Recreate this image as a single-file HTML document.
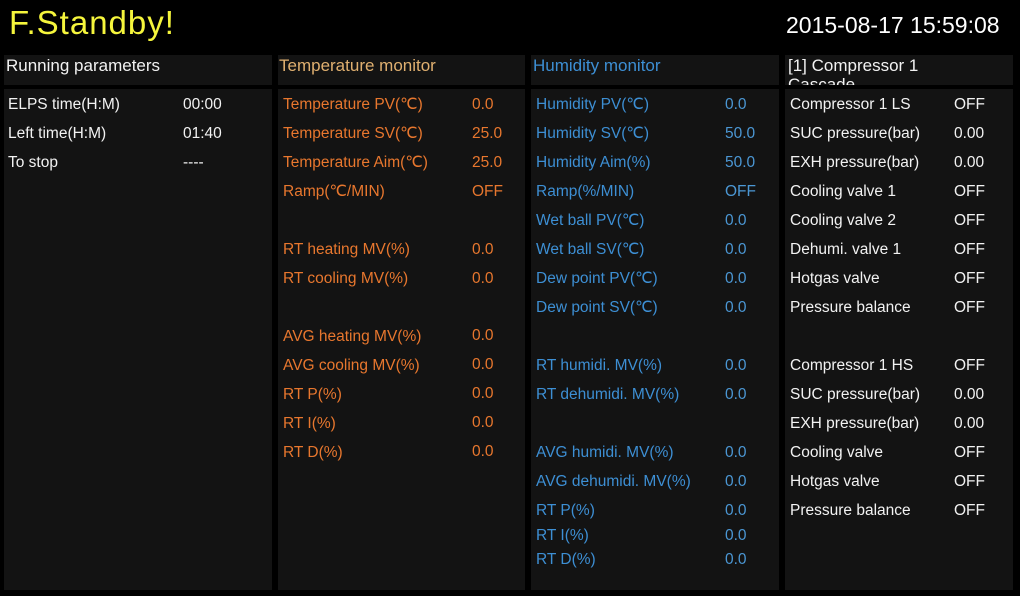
<!DOCTYPE html>
<html><head><meta charset="utf-8"><style>
body{margin:0;width:1020px;height:596px;background:#000;position:relative;overflow:hidden;font-family:"Liberation Sans",sans-serif}
.a{position:absolute;white-space:nowrap}
.p{position:absolute;background:#131313}
.h{font-size:17px;line-height:20px}
.t{font-size:15.5px;line-height:18px}
.w{color:#f2f2f2}.o{color:#e8772e}.b{color:#3d8fd4}
</style></head><body>
<div class="a" style="left:9px;top:4px;font-size:33px;letter-spacing:1px;color:#f5f53c">F.Standby!</div>
<div class="a" style="left:786px;top:12px;font-size:23px;color:#fff">2015-08-17 15:59:08</div>

<div class="p" style="left:4px;top:55px;width:268px;height:30px"></div>
<div class="p" style="left:278px;top:55px;width:247px;height:30px"></div>
<div class="p" style="left:531px;top:55px;width:248px;height:30px"></div>
<div class="p" style="left:785px;top:55px;width:228px;height:30px;overflow:hidden"><div class="a h w" style="left:3px;top:1px;line-height:19px">[1] Compressor 1<br>Cascade</div></div>
<div class="p" style="left:4px;top:89px;width:268px;height:501px"></div>
<div class="p" style="left:278px;top:89px;width:247px;height:501px"></div>
<div class="p" style="left:531px;top:89px;width:248px;height:501px"></div>
<div class="p" style="left:785px;top:89px;width:228px;height:501px"></div>

<div class="a h w" style="left:6px;top:56px">Running parameters</div>
<div class="a h" style="left:279px;top:56px;color:#e0b070">Temperature monitor</div>
<div class="a h b" style="left:533px;top:56px">Humidity monitor</div>

<div class="a t w" style="left:8px;top:90px;line-height:29px">ELPS time(H:M)<br>Left time(H:M)<br>To stop</div>
<div class="a t w" style="left:183px;top:90px;line-height:29px">00:00<br>01:40<br>----</div>

<div class="a t o" style="left:283px;top:90px;line-height:29px">Temperature PV(℃)<br>Temperature SV(℃)<br>Temperature Aim(℃)<br>Ramp(℃/MIN)<br><br>RT heating MV(%)<br>RT cooling MV(%)<br><br>AVG heating MV(%)<br>AVG cooling MV(%)<br>RT P(%)<br>RT I(%)<br>RT D(%)</div>
<div class="a t o" style="left:472px;top:90px;line-height:29px">0.0<br>25.0<br>25.0<br>OFF<br><br>0.0<br>0.0</div>
<div class="a t o" style="left:472px;top:321px;line-height:29px">0.0<br>0.0<br>0.0<br>0.0<br>0.0</div>

<div class="a t b" style="left:536px;top:90px;line-height:29px">Humidity PV(℃)<br>Humidity SV(℃)<br>Humidity Aim(%)<br>Ramp(%/MIN)<br>Wet ball PV(℃)<br>Wet ball SV(℃)<br>Dew point PV(℃)<br>Dew point SV(℃)<br><br>RT humidi. MV(%)<br>RT dehumidi. MV(%)<br><br>AVG humidi. MV(%)<br>AVG dehumidi. MV(%)<br>RT P(%)</div>
<div class="a t b" style="left:536px;top:524px;line-height:24px">RT I(%)<br>RT D(%)</div>
<div class="a t" style="left:725px;top:90px;line-height:29px;color:#4b97d4">0.0<br>50.0<br>50.0<br>OFF<br>0.0<br>0.0<br>0.0<br>0.0<br><br>0.0<br>0.0<br><br>0.0<br>0.0<br>0.0</div>
<div class="a t" style="left:725px;top:524px;line-height:24px;color:#4b97d4">0.0<br>0.0</div>

<div class="a t w" style="left:790px;top:90px;line-height:29px">Compressor 1 LS<br>SUC pressure(bar)<br>EXH pressure(bar)<br>Cooling valve 1<br>Cooling valve 2<br>Dehumi. valve 1<br>Hotgas valve<br>Pressure balance<br><br>Compressor 1 HS<br>SUC pressure(bar)<br>EXH pressure(bar)<br>Cooling valve<br>Hotgas valve<br>Pressure balance</div>
<div class="a t w" style="left:954px;top:90px;line-height:29px">OFF<br>0.00<br>0.00<br>OFF<br>OFF<br>OFF<br>OFF<br>OFF<br><br>OFF<br>0.00<br>0.00<br>OFF<br>OFF<br>OFF</div>
</body></html>
